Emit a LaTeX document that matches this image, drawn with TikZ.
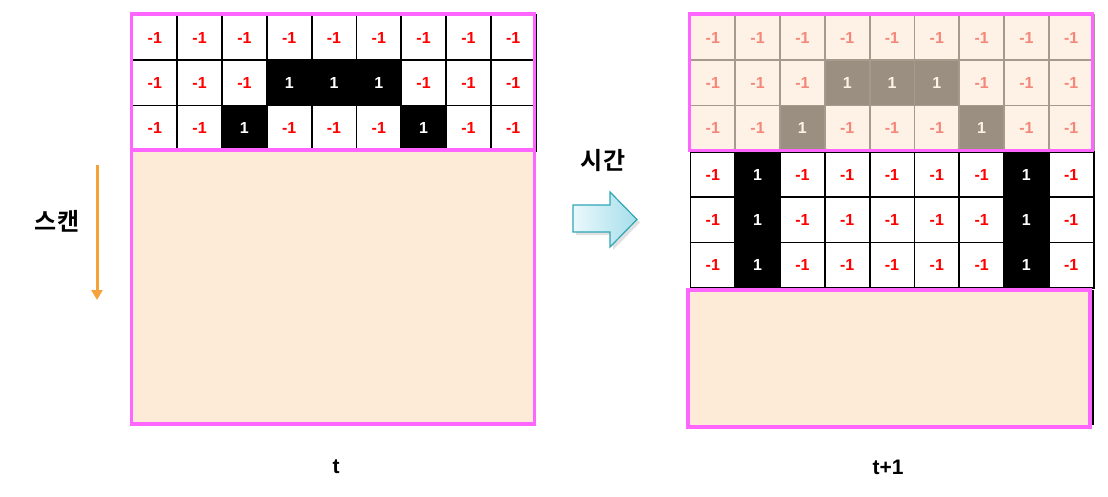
\documentclass[tikz,border=0pt]{standalone}
\usepackage{fontspec}
\setmainfont{Liberation Sans}
\newfontfamily\kr{Noto Sans CJK KR}[BoldFont={Noto Sans CJK KR Bold}]
\usetikzlibrary{arrows.meta}
\definecolor{beige}{HTML}{FDEBD8}
\definecolor{mag}{HTML}{FF66FF}
\definecolor{fbeige}{HTML}{FEF2E6}
\definecolor{fline}{HTML}{A59A8C}
\definecolor{fdark}{HTML}{9B8F82}
\definecolor{fred}{HTML}{F4877A}
\definecolor{arrfill1}{HTML}{EAF8FC}
\definecolor{arrfill2}{HTML}{A6DEEA}
\definecolor{arrline}{HTML}{2EA6B6}
\definecolor{orng}{HTML}{F5A23A}
\tikzset{
  cellbase/.style={anchor=north west, minimum width=44.8pt, minimum height=45.3pt, inner sep=0pt, line width=1.8pt, font=\fontsize{16}{16}\selectfont\bfseries},
  c0/.style={cellbase, draw=black, fill=white, text=red},
  c1/.style={cellbase, draw=black, fill=black, text=white},
  f0/.style={cellbase, draw=fline, fill=fbeige, text=fred},
  f1/.style={cellbase, draw=fline, fill=fdark, text=fbeige},
  magbox/.style={draw=mag, line width=3.2pt},
  lbl/.style={font=\fontsize{21}{21}\selectfont\bfseries},
  krlbl/.style={font=\kr\bfseries\fontsize{24}{24}\selectfont}
}
\begin{document}
\begin{tikzpicture}[x=1pt,y=-1pt]
\useasboundingbox (0,0) rectangle (1108,496);
% left panel
\fill[beige] (131.5,150) rectangle (534.7,424);
\foreach \r/\row in {1/{0,0,0,0,0,0,0,0,0},2/{0,0,0,1,1,1,0,0,0},3/{0,0,1,0,0,0,1,0,0}}{
  \foreach \v [count=\c] in \row {
    \node[c\v] (L-\r-\c) at ({131.5+(\c-1)*44.8},{14+(\r-1)*45.3}) {\ifnum\v=1 1\else -1\fi};
  }
}
\draw[magbox] (131.5,14) rectangle (534.7,150);
\draw[magbox] (131.5,150) rectangle (534.7,424);
% right panel faded grid
\foreach \r/\row in {1/{0,0,0,0,0,0,0,0,0},2/{0,0,0,1,1,1,0,0,0},3/{0,0,1,0,0,0,1,0,0}}{
  \foreach \v [count=\c] in \row {
    \node[f\v] (F-\r-\c) at ({689.5+(\c-1)*44.8},{14+(\r-1)*45.3}) {\ifnum\v=1 1\else -1\fi};
  }
}
% right panel current grid
\foreach \r in {1,2,3}{
  \foreach \v [count=\c] in {0,1,0,0,0,0,0,1,0} {
    \node[c\v] (R-\r-\c) at ({689.5+(\c-1)*44.8},{151+(\r-1)*45.3}) {\ifnum\v=1 1\else -1\fi};
  }
}
\draw[magbox] (689.5,14) rectangle (1092.7,150.5);
\draw[black, line width=1.5pt] (1093,290) -- (1093,425);
\draw[magbox, fill=beige] (688,290) rectangle (1090,427);
% scan arrow
\coordinate (s1) at (97,165);
\coordinate (s2) at (97,300);
\draw[orng, line width=3pt, -{Triangle[length=10pt,width=11pt]}] (s1) -- (s2);
\node[krlbl] (scan) at (57,221) {스캔};
% time arrow
\fill[black!20, opacity=0.6] (576,208) -- (613,208) -- (613,195) -- (640,222.5) -- (613,250) -- (613,235) -- (576,235) -- cycle;
\shade[left color=arrfill1, right color=arrfill2, draw=arrline, line width=1.2pt]
  (573,205) -- (610,205) -- (610,192) -- (637,219.5) -- (610,247) -- (610,232) -- (573,232) -- cycle;
\node[krlbl] (time) at (603,161) {시간};
% labels
\node[lbl] (tl) at (336,467) {t};
\node[lbl] (t1l) at (888,467) {t+1};
\end{tikzpicture}
\end{document}
